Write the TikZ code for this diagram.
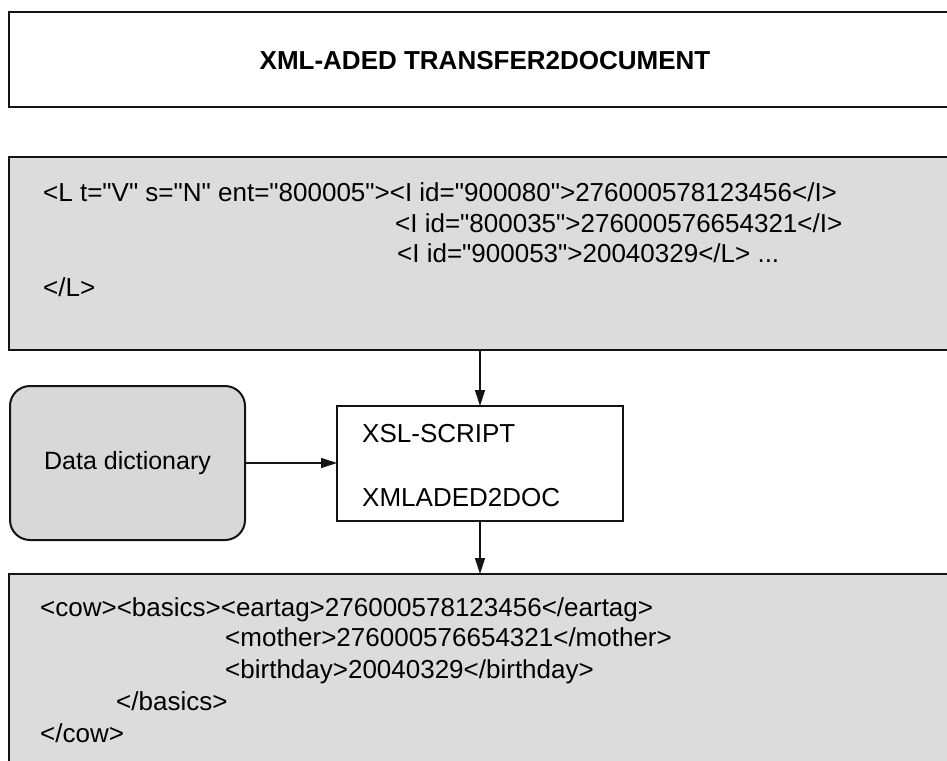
\documentclass[tikz,border=0pt]{standalone}
\usepackage{fontspec}
\newfontfamily\plainfont{Liberation Sans}
\setmainfont{Liberation Sans}
\usetikzlibrary{arrows.meta}
\definecolor{boxgray}{RGB}{220,220,220}
\definecolor{ddgray}{RGB}{216,216,216}
\definecolor{edge}{RGB}{20,20,20}
\tikzset{
  frame/.style={draw=edge, line width=2pt, inner sep=0pt, outer sep=0pt, anchor=north west},
  graybox/.style={frame, fill=boxgray},
  txt/.style={anchor=base west, inner sep=0pt, font=\plainfont\fontsize{26}{31}\selectfont, text=black},
  conn/.style={draw=edge, line width=1.2pt, -{Triangle[length=16pt,width=10pt]}}
}
\begin{document}
\begin{tikzpicture}[x=1pt,y=-1pt]
\useasboundingbox (0,0) rectangle (947,760);
\clip (0,0) rectangle (947,760);
% title box
\node[frame, minimum width=951pt, minimum height=95pt] (tbox) at (9,12) {};
\node[anchor=base, inner sep=0pt, font=\plainfont\fontsize{26}{31}\selectfont\bfseries] (title) at (485,70) {XML-ADED TRANSFER2DOCUMENT};
% source xml box
\node[graybox, minimum width=951pt, minimum height=193pt] (gbox) at (9,157) {};
\node[txt] (g1) at (43,201) {<L t="V" s="N" ent="800005"><I id="900080">276000578123456</I>};
\node[txt] (g2) at (395,232) {<I id="800035">276000576654321</I>};
\node[txt] (g3) at (397,262) {<I id="900053">20040329</L> ...};
\node[txt] (g4) at (43,296) {</L>};
% data dictionary
\node[draw=edge, line width=2pt, fill=ddgray, rounded corners=20pt, minimum width=235pt, minimum height=154pt, inner sep=0pt, font=\plainfont\fontsize{25}{30}\selectfont] (dd) at (127.5,463) {Data dictionary};
% process box
\node[frame, fill=white, minimum width=286pt, minimum height=115pt] (proc) at (337,406) {};
\node[txt] (p1) at (362,442) {XSL-SCRIPT};
\node[txt] (p2) at (362,506) {XMLADED2DOC};
% target xml box
\node[graybox, minimum width=951pt, minimum height=206pt] (bbox) at (9,574) {};
\node[txt] (b1) at (40,616) {<cow><basics><eartag>276000578123456</eartag>};
\node[txt] (b2) at (225,646) {<mother>276000576654321</mother>};
\node[txt] (b3) at (225,678) {<birthday>20040329</birthday>};
\node[txt] (b4) at (116,710) {</basics>};
\node[txt] (b5) at (40,742) {</cow>};
% connectors
\draw[conn] (proc.north |- gbox.south) -- (proc.north);
\draw[conn] (dd.east) -- (proc.west |- dd.east);
\draw[conn] (proc.south) -- (proc.south |- bbox.north);
\end{tikzpicture}
\end{document}
